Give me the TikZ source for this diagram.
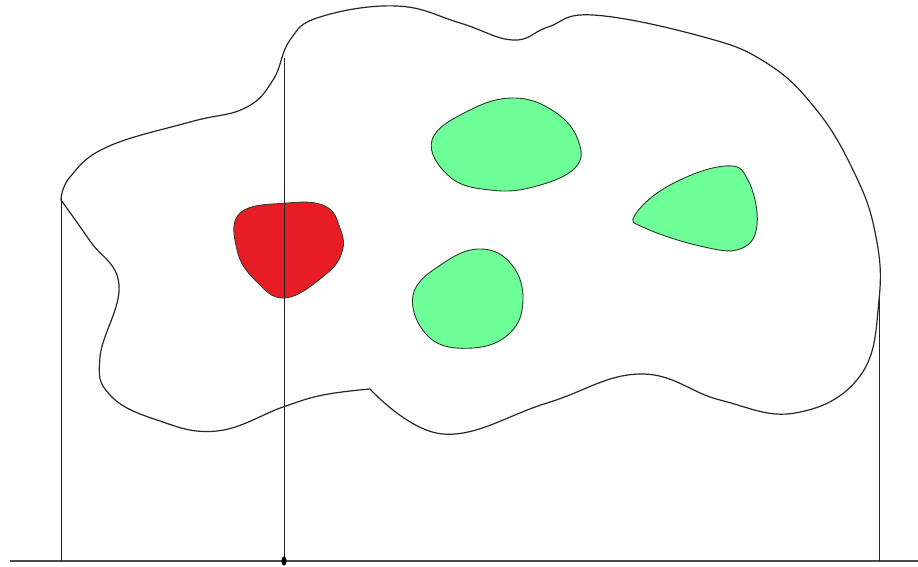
\documentclass[tikz,border=0pt]{standalone}
\usetikzlibrary{calc}
\definecolor{redfill}{RGB}{232,28,36}
\definecolor{greenfill}{RGB}{110,255,152}
\definecolor{blobedge}{RGB}{40,60,40}
\tikzset{
  outline/.style={draw=black!85, line width=1.2pt},
  vline/.style={draw=black!85, line width=0.9pt},
  groundline/.style={draw=black!70, line width=1.5pt},
  redblob/.style={fill=redfill, draw=blobedge, line width=0.8pt},
  greenblob/.style={fill=greenfill, draw=blobedge, line width=0.9pt}
}
\begin{document}
\begin{tikzpicture}[x=1pt,y=-1pt]
\useasboundingbox (0,0) rectangle (918,566);
% ground
\coordinate (gl) at (10,561);
\coordinate (gr) at (918,561);
\draw[groundline] (gl) -- (gr);
% vertical lines
\coordinate (v1t) at (61,197);
\coordinate (v1b) at (61,561);
\coordinate (v2t) at (284,58);
\coordinate (v2b) at (284,561);
\coordinate (v3t) at (879,296);
\coordinate (v3b) at (879,561);
\draw[vline] (v1t) -- (v1b);
\draw[vline] (v2t) -- (v2b);
\draw[vline] (v3t) -- (v3b);
% dot
\fill[black] (v2b) ellipse (2.6 and 4.6);
% big outline
\draw[outline] plot[smooth, tension=0.7] coordinates {
 (370,389) (443,434) (547,403) (640,374) (720,400) (795,413)
 (860,376) (879,300) (875,232) (853,170) (815,108) (765,62) (700,36) (593,15)
 (548,27) (513,40) (460,23) (397,6) (320,17) (290,40) (273,80)
 (245,108) (190,122) (107,147) (70,177) (61,200)};
\draw[outline] plot[smooth, tension=0.7] coordinates {
 (61,200) (90,241) (119,285) (100,357) (110,395) (157,420) (217,431)
 (283,407) (323,395) (370,389)};
% red blob
\draw[redblob] plot[smooth cycle, tension=0.7] coordinates {
 (240,213) (287,203) (325,206) (340,228) (342,252) (325,275)
 (285,298) (255,280) (237,250)};
\draw[vline] (284,200) -- (284,300);
% green blobs
\draw[greenblob] plot[smooth cycle, tension=0.7] coordinates {
 (432,140) (470,110) (515,98) (555,112) (578,140) (575,168)
 (533,187) (490,190) (450,177)};
\draw[greenblob] plot[smooth cycle, tension=0.7] coordinates {
 (635,215) (670,185) (725,166) (748,180) (757,225) (740,249)
 (700,246) (645,228)};
\draw[greenblob] plot[smooth cycle, tension=0.7] coordinates {
 (413,295) (445,262) (482,249) (512,265) (523,300) (510,333)
 (473,348) (430,338)};
\end{tikzpicture}
\end{document}
